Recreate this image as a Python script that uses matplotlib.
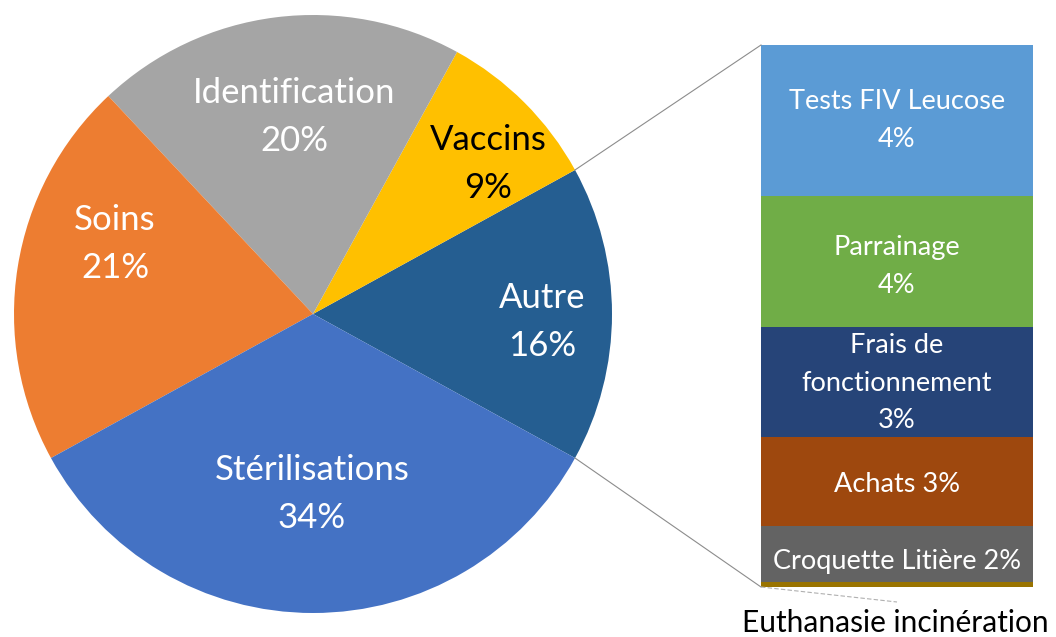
import matplotlib
matplotlib.use("Agg")
import matplotlib.pyplot as plt
import numpy as np

plt.rcParams['font.family'] = ['Lato', 'DejaVu Sans']

# ---- data ----
pie_labels = ["Autre", "Vaccins", "Identification", "Soins", "Stérilisations"]
pie_values = [16, 9, 20, 21, 34]
pie_pct_text = ["16%", "9%", "20%", "21%", "34%"]
pie_colors = ["#255E91", "#FFC000", "#A5A5A5", "#ED7D31", "#4472C4"]
pie_text_colors = ["white", "black", "white", "white", "white"]

# sub-bar (top to bottom)
bar_labels = ["Tests FIV Leucose\n4%", "Parrainage\n4%", "Frais de\nfonctionnement\n3%",
              "Achats 3%", "Croquette Litière 2%", "Euthanasie incinération"]
bar_values = [4.46, 3.87, 3.25, 2.63, 1.65, 0.15]
bar_colors = ["#5B9BD5", "#70AD47", "#264478", "#9E480E", "#636363", "#997300"]

W, H = 1056, 637
fig = plt.figure(figsize=(W / 100, H / 100), dpi=100)
ax = fig.add_axes([0, 0, 1, 1])

def py(y):  # pixel row -> data y
    return H - y

cx, cy, r = 313, py(314), 299
start = -28.8
wedges, _ = ax.pie(pie_values, colors=pie_colors, startangle=start, counterclock=True,
                   center=(cx, cy), radius=r, frame=True,
                   wedgeprops=dict(linewidth=0))

# pie labels
pie_label_pos = [(542, 322), (488, 164), (294, 117), (115, 244), (312, 494)]
for lab, pct, tc, (x, y) in zip(pie_labels, pie_pct_text, pie_text_colors, pie_label_pos):
    ax.text(x, py(y), lab + "\n" + pct, ha="center", va="center", color=tc,
            fontsize=25, linespacing=1.65)

# sub bar
bx0, bx1 = 761, 1033
btop, bbot = 45, 587
scale = (bbot - btop) / sum(bar_values)
bottom = py(bbot)
cum = bottom
centers = []
for v, c in zip(bar_values[::-1], bar_colors[::-1]):
    ax.bar((bx0 + bx1) / 2, v * scale, bottom=cum, width=bx1 - bx0, color=c, linewidth=0)
    centers.append(cum + v * scale / 2)
    cum += v * scale
centers = centers[::-1]

offsets = [0, 5, 1, 3, 8]
for lab, ctr, off in zip(bar_labels[:5], centers[:5], offsets):
    ax.text((bx0 + bx1) / 2, ctr - off, lab, ha="center", va="center", color="white",
            fontsize=19.5, linespacing=1.62)
ax.text(895, py(623), bar_labels[5], ha="center", va="center", color="black", fontsize=21.5)

# connector lines from pie split points to bar corners
a1 = np.deg2rad(start + pie_values[0] / sum(pie_values) * 360)
a0 = np.deg2rad(start)
ax.plot([cx + r * np.cos(a1), bx0], [cy + r * np.sin(a1), cum], color="#8c8c8c", lw=0.8)
ax.plot([cx + r * np.cos(a0), bx0], [cy + r * np.sin(a0), bottom], color="#8c8c8c", lw=0.8)
# leader for Euthanasie
ax.plot([bx0, 897], [bottom, py(602)], color="#b0b0b0", lw=0.8, ls=(0, (4, 2)))

ax.set_xlim(0, W)
ax.set_ylim(0, H)
ax.set_aspect("auto")
ax.axis("off")
fig.savefig("out.png", dpi=100, facecolor="white")
